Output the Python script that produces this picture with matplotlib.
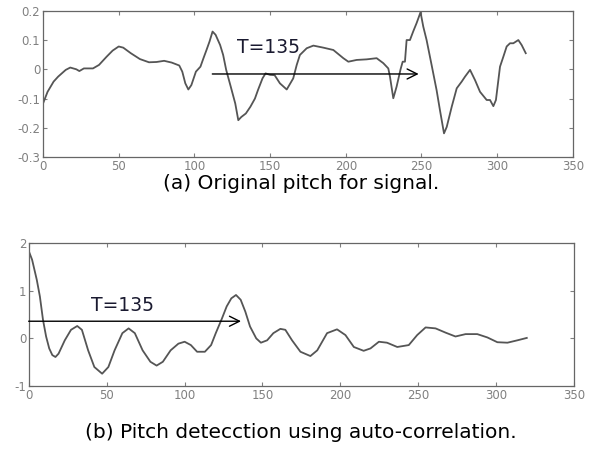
import numpy as np
import matplotlib.pyplot as plt

# (a) original pitch signal
sig_x = [0, 3, 7, 10, 15, 18, 22, 24, 27, 33, 37, 42, 46, 50, 53, 58, 64, 70, 75, 80,
         85, 90, 92, 94, 96, 98, 101, 104, 106, 108, 110, 112, 114, 117, 119, 121, 124,
         127, 129, 131, 134, 137, 140, 142, 145, 147, 150, 153, 156.5, 161, 165.3, 167.6,
         169.7, 174.2, 178.6, 185.2, 191.8, 198.4, 201.7, 207.2, 213.8, 220.4, 224.8,
         228.1, 229.2, 231.4, 233.6, 236.2, 237.6, 239.1, 240.2, 242.4, 244.6, 246.8,
         249.4, 251.2, 253.4, 256.7, 260, 262.2, 264.9, 266.7, 270, 273.3, 276.6, 278.8,
         282.1, 285.4, 288.7, 293.1, 295.3, 297.5, 299.2, 301.9, 304.1, 306.3, 308.5,
         310.7, 314, 316.2, 318.9]
sig_y = [-0.117, -0.077, -0.042, -0.025, -0.002, 0.006, 0.0, -0.006, 0.003, 0.003, 0.015,
         0.043, 0.064, 0.078, 0.074, 0.055, 0.035, 0.024, 0.025, 0.029, 0.023, 0.013,
         -0.008, -0.048, -0.069, -0.054, -0.008, 0.009, 0.038, 0.066, 0.095, 0.129, 0.118,
         0.083, 0.049, -0.002, -0.059, -0.117, -0.174, -0.163, -0.151, -0.128, -0.1,
         -0.071, -0.031, -0.014, -0.019, -0.02, -0.048, -0.069, -0.031, 0.015, 0.049,
         0.072, 0.081, 0.074, 0.066, 0.038, 0.026, 0.032, 0.034, 0.038, 0.021, 0.003,
         -0.025, -0.099, -0.059, 0.0, 0.026, 0.026, 0.1, 0.1, 0.13, 0.158, 0.195, 0.146,
         0.1, 0.015, -0.071, -0.139, -0.219, -0.197, -0.128, -0.065, -0.042, -0.025,
         -0.002, -0.037, -0.077, -0.105, -0.105, -0.126, -0.105, 0.009, 0.043, 0.078,
         0.089, 0.089, 0.1, 0.083, 0.055]

# (b) auto-correlation
ac_x = [0, 2, 5, 7, 9, 11, 13, 15, 17, 19, 23, 27, 31, 34, 38, 42, 47, 51, 55, 60, 64,
        68, 73, 78, 82, 86, 91, 96, 100, 104, 108, 113, 117, 120, 124, 127, 130, 133,
        136, 139, 142, 146, 149, 153, 157, 161.5, 164.7, 169, 174.4, 180.8, 185.2,
        191.5, 197.9, 203.3, 208.7, 215, 219.4, 224.8, 230, 236.6, 244, 249.4, 254.8,
        261.2, 267.7, 274, 280.5, 288, 294.5, 300.9, 307.4, 313.8, 319.8]
ac_y = [1.82, 1.65, 1.23, 0.88, 0.39, 0.04, -0.21, -0.35, -0.39, -0.32, -0.04, 0.18,
        0.26, 0.18, -0.25, -0.6, -0.74, -0.6, -0.25, 0.11, 0.21, 0.11, -0.25, -0.49,
        -0.57, -0.49, -0.25, -0.11, -0.07, -0.14, -0.28, -0.28, -0.14, 0.11, 0.42, 0.67,
        0.84, 0.91, 0.81, 0.56, 0.25, 0.0, -0.09, -0.04, 0.11, 0.2, 0.18, -0.04, -0.28,
        -0.37, -0.25, 0.11, 0.19, 0.07, -0.18, -0.26, -0.21, -0.07, -0.09, -0.18, -0.14,
        0.07, 0.23, 0.21, 0.12, 0.04, 0.09, 0.09, 0.02, -0.08, -0.09, -0.04, 0.01]

x_ticks = [0, 50, 100, 150, 200, 250, 300, 350]
top_yticks = [-0.3, -0.2, -0.1, 0, 0.1, 0.2]
top_ylabels = ['-0.3', '-0.2', '-0.1', '0', '0.1', '0.2']
bot_yticks = [-1, 0, 1, 2]
bot_ylabels = ['-1', '0', '1', '2']

fig = plt.figure(figsize=(6, 4.5), dpi=100)
ax1 = fig.add_axes([0.0717, 0.651, 0.883, 0.325])
ax2 = fig.add_axes([0.0483, 0.142, 0.908, 0.318])

line_col = '#555555'
for ax in (ax1, ax2):
    ax.set_xlim(0, 350)
    ax.set_xticks(x_ticks)
    ax.set_xticklabels([str(t) for t in x_ticks])
    ax.tick_params(direction='in', length=3, width=0.8, colors='#808080',
                   labelsize=8.5, top=True, right=True, pad=2)
    for s in ax.spines.values():
        s.set_color('#666666')
        s.set_linewidth(0.9)

ax1.plot(sig_x, sig_y, color=line_col, lw=1.3)
ax1.set_ylim(-0.3, 0.2)
ax1.set_yticks(top_yticks)
ax1.set_yticklabels(top_ylabels)
ax1.annotate('', xy=(250, -0.016), xytext=(110, -0.016),
             arrowprops=dict(arrowstyle='->', color='black', lw=1.0, mutation_scale=18))
ax1.text(128, 0.073, 'T=135', fontsize=13.5, color='#1a1a30', va='center', ha='left')

ax2.plot(ac_x, ac_y, color=line_col, lw=1.3)
ax2.set_ylim(-1, 2)
ax2.set_yticks(bot_yticks)
ax2.set_yticklabels(bot_ylabels)
ax2.annotate('', xy=(138, 0.36), xytext=(-2, 0.36), annotation_clip=False,
             arrowprops=dict(arrowstyle='->', color='black', lw=1.0, mutation_scale=18))
ax2.text(40, 0.68, 'T=135', fontsize=13.5, color='#1a1a30', va='center', ha='left')

fig.text(0.502, 1 - 183 / 450, '(a) Original pitch for signal.', ha='center',
         va='center', fontsize=14.5)
fig.text(0.502, 1 - 432 / 450, '(b) Pitch detecction using auto-correlation.',
         ha='center', va='center', fontsize=14.5)

fig.savefig('out.png', dpi=100)
